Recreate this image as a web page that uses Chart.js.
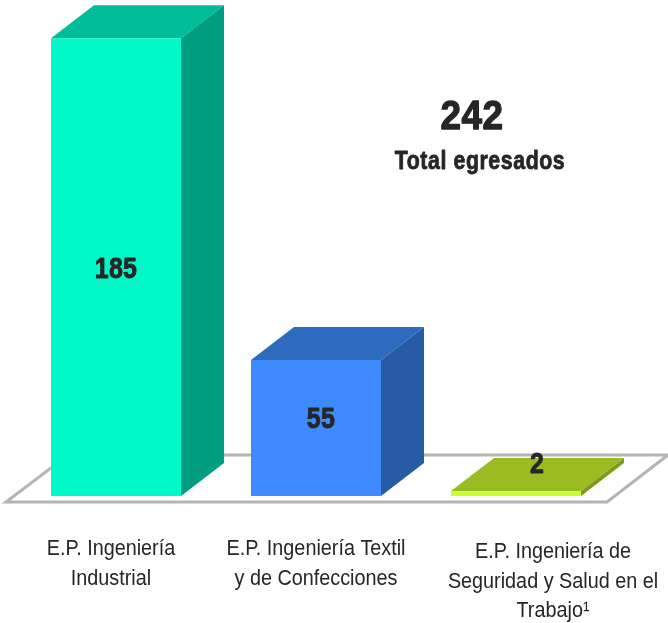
<!DOCTYPE html>
<html>
<head>
<meta charset="utf-8">
<title>Total egresados</title>
<script src="https://cdn.jsdelivr.net/npm/chart.js@4"></script>
<style>
  html, body { margin: 0; padding: 0; background: #fff; }
  canvas { display: block; }
</style>
</head>
<body>
<canvas id="chart" width="668" height="623"></canvas>
<script>
// datos
const categories = ['E.P. Ingeniería Industrial', 'E.P. Ingeniería Textil y de Confecciones', 'E.P. Ingeniería de Seguridad y Salud en el Trabajo¹'];
const egresados = [185, 55, 2];
const totalEgresados = '242';
const totalLabel = 'Total egresados';

// etiquetas partidas en lineas
const categoryLines = [
    ['E.P. Ingeniería', 'Industrial'],
    ['E.P. Ingeniería Textil', 'y de Confecciones'],
    ['E.P. Ingeniería de', 'Seguridad y Salud en el', 'Trabajo¹']
];

// colores de cada cara
const frontColors = ['#00F9C8', '#3D8BFF', '#CCFF33'];
const topColors = ['#00BD99', '#2E6BBF', '#9BBB22'];
const sideColors = ['#009E80', '#275BA3', '#7C9A1C'];

const DEPTH_X = 43;
const DEPTH_Y = 33;
const FONT = '"Liberation Sans", sans-serif';

function poly(ctx, pts, fill) {
    ctx.beginPath();
    ctx.moveTo(pts[0][0], pts[0][1]);
    pts.slice(1).forEach(p => ctx.lineTo(p[0], p[1]));
    ctx.closePath();
    ctx.fillStyle = fill;
    ctx.fill();
}

// no hay fuente condensada instalada: se estrecha en horizontal
function narrowText(ctx, text, x, y, font, squeeze, weight, spacing) {
    ctx.save();
    ctx.translate(x, y);
    ctx.scale(squeeze, 1);
    ctx.font = font;
    ctx.letterSpacing = (spacing || 0) + 'px';
    ctx.fillStyle = '#262626';
    ctx.strokeStyle = '#262626';
    ctx.textAlign = 'center';
    ctx.textBaseline = 'middle';
    ctx.fillText(text, 0, 0);
    if (weight) {
        ctx.lineWidth = weight;
        ctx.lineJoin = 'round';
        ctx.strokeText(text, 0, 0);
    }
    ctx.restore();
}

function heavyText(ctx, text, x, y, size, squeeze, weight, spacing) {
    narrowText(ctx, text, x, y, 'bold ' + size + 'px ' + FONT, squeeze, weight, spacing);
}

const bars3d = {
    id: 'bars3d',
    beforeDatasetsDraw(chart) {
        const ctx = chart.ctx;
        const base = chart.scales.y.getPixelForValue(0);
        const bars = chart.getDatasetMeta(0).data;

        // piso
        ctx.save();
        ctx.strokeStyle = '#B4B4B4';
        ctx.lineWidth = 3;
        ctx.beginPath();
        ctx.moveTo(6, base + 6);
        ctx.lineTo(607, base + 6);
        ctx.lineTo(668, base - 41);
        ctx.lineTo(68, base - 41);
        ctx.closePath();
        ctx.stroke();

        // caras superior y lateral
        bars.forEach((bar, i) => {
            const half = bar.width / 2;
            const l = bar.x - half, r = bar.x + half, t = bar.y;
            poly(ctx, [[l, t], [r, t], [r + DEPTH_X, t - DEPTH_Y], [l + DEPTH_X, t - DEPTH_Y]], topColors[i]);
            poly(ctx, [[r, t], [r + DEPTH_X, t - DEPTH_Y], [r + DEPTH_X, base - DEPTH_Y], [r, base]], sideColors[i]);
        });
        ctx.restore();
    },
    afterDatasetsDraw(chart) {
        const ctx = chart.ctx;
        const x = chart.scales.x;
        const y = chart.scales.y;

        // valores
        heavyText(ctx, String(egresados[0]), x.getPixelForValue(0), y.getPixelForValue(egresados[0] / 2) + 3, 29, 0.86, 0.9, 0.3);
        heavyText(ctx, String(egresados[1]), x.getPixelForValue(1) + 5, y.getPixelForValue(egresados[1] / 2) - 8, 29, 0.86, 0.9, 0.3);
        heavyText(ctx, String(egresados[2]), x.getPixelForValue(2) + 21, 465, 29, 0.86, 0.9, 0);

        // total
        heavyText(ctx, totalEgresados, 472, 118, 41, 0.9, 1.3, 0.5);
        heavyText(ctx, totalLabel, 480, 162, 26, 0.82, 0.8, 0.7);

        // categorias
        const shift = [-5, 0, 37];
        const firstLine = [549, 549, 552];
        categoryLines.forEach((lines, i) => {
            lines.forEach((line, n) => {
                narrowText(ctx, line, x.getPixelForValue(i) + shift[i], firstLine[i] + n * 29.5, '22px ' + FONT, 0.9);
            });
        });
    }
};

new Chart(document.getElementById('chart').getContext('2d'), {
    type: 'bar',
    data: {
        labels: categories,
        datasets: [{
            data: egresados,
            backgroundColor: frontColors,
            borderWidth: 0,
            barPercentage: 0.65,
            categoryPercentage: 1
        }]
    },
    options: {
        responsive: false,
        animation: false,
        layout: { padding: { left: 16, right: 52, top: 1, bottom: 127 } },
        plugins: { legend: { display: false }, tooltip: { enabled: false } },
        scales: {
            x: { display: false },
            y: { display: false, min: 0, max: 200 }
        }
    },
    plugins: [bars3d]
});
</script>
</body>
</html>
